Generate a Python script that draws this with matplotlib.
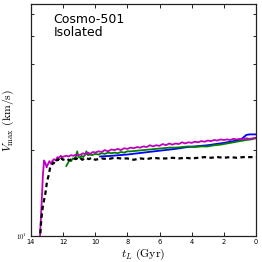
import matplotlib
matplotlib.use("Agg")
import matplotlib.pyplot as plt
from matplotlib.ticker import NullFormatter, FixedLocator

plt.rcParams['mathtext.fontset'] = 'cm'

# Magenta series
t_mag = [13.45, 13.35, 13.25, 13.18, 13.1, 13.02, 12.95, 12.85, 12.75, 12.65, 12.55, 12.45,
         12.35, 12.25, 12.15, 12.05, 11.95, 11.8, 11.65, 11.5, 11.35, 11.2, 11.05, 10.9,
         10.75, 10.6, 10.45, 10.3, 10.15, 10.0, 9.8, 9.6, 9.4, 9.2, 9.0, 8.8, 8.6, 8.4, 8.2,
         8.0, 7.8, 7.6, 7.4, 7.2, 7.0, 6.8, 6.6, 6.4, 6.2, 6.0, 5.8, 5.6, 5.4, 5.2, 5.0, 4.8,
         4.6, 4.4, 4.2, 4.0, 3.8, 3.6, 3.4, 3.2, 3.0, 2.8, 2.6, 2.4, 2.2, 2.0, 1.8, 1.6, 1.4,
         1.2, 1.0, 0.8, 0.6, 0.4, 0.2, 0.0]
v_mag = [9.6, 12.5, 16.5, 18.4, 18.0, 17.4, 17.8, 18.3, 17.9, 18.4, 18.6, 18.4,
         18.9, 18.8, 19.1, 18.9, 19.0, 19.1, 19.0, 19.2, 19.1, 19.3, 19.2, 19.3,
         19.5, 19.3, 19.6, 19.4, 19.7, 19.6, 19.8, 19.7, 20.0, 19.8, 20.1, 20.0, 20.2, 20.0, 20.3,
         20.2, 20.4, 20.3, 20.5, 20.4, 20.6, 20.5, 20.8, 20.6, 20.8, 20.7, 21.0, 20.8, 21.1, 20.9, 21.1, 21.0,
         21.3, 21.1, 21.3, 21.2, 21.4, 21.3, 21.5, 21.4, 21.6, 21.5, 21.7, 21.6, 21.8, 21.7, 21.8, 21.7, 21.9,
         21.8, 21.9, 21.8, 22.0, 21.9, 22.0, 22.1]

# Green series
t_grn = [11.8, 11.7, 11.6, 11.5, 11.4, 11.3, 11.2, 11.12, 11.05, 10.95, 10.85, 10.75, 10.65,
         10.55, 10.45, 10.35, 10.2, 10.0, 9.8, 9.6, 9.4, 9.2, 9.0, 8.8, 8.6, 8.4, 8.2, 8.0, 7.8,
         7.4, 7.0, 6.6, 6.2, 5.8, 5.4, 5.0, 4.6, 4.2, 3.8, 3.4, 3.0, 2.6, 2.2, 1.8, 1.4, 1.0,
         0.6, 0.3, 0.0]
v_grn = [17.6, 18.0, 18.5, 18.3, 18.7, 18.6, 19.0, 19.8, 19.0, 18.8, 19.1, 18.9, 19.2,
         19.8, 19.2, 19.3, 19.2, 19.4, 19.3, 19.5, 19.4, 19.6, 19.5, 19.6, 19.5, 19.7, 19.6, 19.8, 19.8,
         19.9, 20.0, 20.1, 20.2, 20.3, 20.4, 20.4, 20.5, 20.6, 20.5, 20.6, 20.6, 20.8, 20.9, 21.1, 21.3, 21.5,
         21.7, 21.8, 22.0]

# Blue series
t_blu = [9.7, 9.0, 8.0, 7.0, 6.0, 5.0, 4.25, 3.0, 2.0, 1.4, 1.0, 0.8, 0.6, 0.4, 0.0]
v_blu = [19.0, 19.1, 19.3, 19.6, 19.9, 20.2, 20.5, 20.8, 21.2, 21.5, 21.7, 22.1, 22.6, 22.7, 22.7]

# Black dashed series
t_blk = [13.45, 13.35, 13.25, 13.1, 13.0, 12.9, 12.8, 12.7, 12.6, 12.5, 12.4, 12.3, 12.2, 12.1,
         12.0, 11.8, 11.6, 11.4, 11.2, 11.0, 10.8, 10.6, 10.4, 10.2, 10.0, 9.6, 9.2, 8.8, 8.4,
         8.0, 7.6, 7.2, 6.8, 6.4, 6.0, 5.6, 5.2, 4.8, 4.4, 4.0, 3.6, 3.2, 2.8, 2.4, 2.0, 1.6,
         1.2, 0.8, 0.4, 0.0]
v_blk = [9.6, 11.5, 12.8, 14.1, 15.5, 16.3, 17.4, 17.7, 18.1, 17.9, 18.4, 18.6, 18.3, 18.7,
         18.5, 18.7, 18.4, 18.8, 18.6, 18.9, 18.5, 18.8, 18.6, 18.8, 18.5, 18.7, 18.6, 18.8, 18.7,
         18.7, 18.5, 18.7, 18.6, 18.8, 18.7, 18.7, 18.8, 18.7, 18.8, 18.7, 18.8, 18.9, 18.8, 18.9, 18.8, 18.9,
         18.8, 18.9, 18.9, 18.9]

x_ticks = [14, 12, 10, 8, 6, 4, 2, 0]
label_text = "Cosmo-501\nIsolated"

fig = plt.figure(figsize=(2.62, 2.62), dpi=100)
ax = fig.add_axes([0.118, 0.099, 0.859, 0.886])

ax.plot(t_blu, v_blu, color=(0, 0, 1), lw=1.3)
ax.plot(t_grn, v_grn, color=(0, 0.5, 0), lw=1.3)
ax.plot(t_mag, v_mag, color=(0.75, 0, 0.75), lw=1.3)
ax.plot(t_blk, v_blk, color='k', lw=1.6, linestyle=(0, (2, 1.5)))

ax.set_yscale('log')
ax.set_xlim(14, 0)
ax.set_ylim(10, 65)
ax.set_xticks(x_ticks)
ax.yaxis.set_major_locator(FixedLocator([10]))
ax.yaxis.set_minor_locator(FixedLocator([20, 30, 40, 50, 60]))
ax.yaxis.set_minor_formatter(NullFormatter())
ax.set_yticklabels([r"$10^1$"])

ax.tick_params(which='both', direction='in', top=True, right=True, labelsize=4.8)
ax.tick_params(axis='x', pad=2)
ax.tick_params(axis='y', pad=3)
ax.tick_params(which='major', length=3, width=0.6)
ax.tick_params(which='minor', length=2, width=0.6)
for s in ax.spines.values():
    s.set_linewidth(0.9)
    s.set_color('#222222')

ax.set_xlabel(r"$t_L\ ({\rm Gyr})$", fontsize=8.5, labelpad=1)
ax.set_ylabel(r"$V_{\rm max}\ ({\rm km/s})$", fontsize=8.5, labelpad=0)

ax.text(0.1, 0.96, label_text, transform=ax.transAxes, fontsize=9, va='top', ha='left',
        linespacing=0.95)

fig.savefig("out.png", dpi=100)
